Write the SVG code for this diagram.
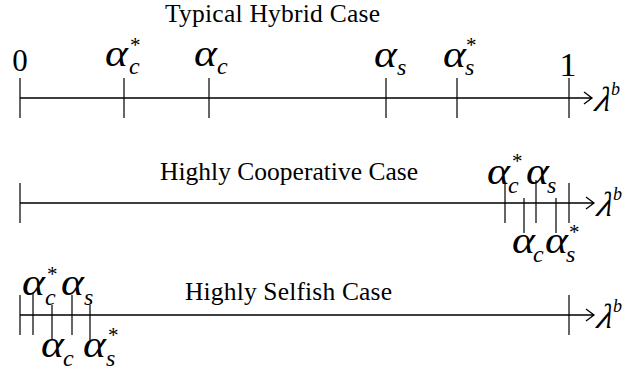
<svg xmlns="http://www.w3.org/2000/svg" width="626" height="370" viewBox="0 0 626 370">
<style>
.ax{stroke:#000;stroke-width:1.3;fill:none}
.tk{stroke:#000;stroke-width:1.2;fill:none}
.ttl{font-family:"Liberation Serif","Times New Roman",serif;font-size:25.5px;fill:#000}
.num{font-family:"Liberation Serif","Times New Roman",serif;font-size:31px;fill:#000;text-anchor:middle}
.al{font-family:"Liberation Serif","Times New Roman",serif;font-style:italic;font-size:37px;fill:#000}
.sb{font-family:"Liberation Serif","Times New Roman",serif;font-style:italic;font-size:24px;fill:#000}
.st{font-family:"Liberation Serif","Times New Roman",serif;font-size:21px;fill:#000}
.lam{font-family:"Liberation Serif","Times New Roman",serif;font-style:italic;font-size:35px;fill:#000}
.sup{font-family:"Liberation Serif","Times New Roman",serif;font-style:italic;font-size:18px;fill:#000}
</style>
<rect width="626" height="370" fill="#fff"/>
<g id="connectors">
  <path class="ax" d="M20 98H592M584 92L592 98L584 104"/>
  <path class="ax" d="M20 203H594M586 197L594 203L586 209"/>
  <path class="ax" d="M20 315H594M586 309L594 315L586 321"/>
  <path class="tk" d="M20 78V118M124 78V118M209 78V118M386 78V118M457 78V118M569 78V118"/>
  <path class="tk" d="M20 183V223M505 184V223M536 180V223M524 198V233M556 198V233M569 183V223"/>
  <path class="tk" d="M20 295V335M33 293V335M72 295V335M52 305V340M90 305V340M569 295V335"/>
</g>
<g id="hybrid">
  <text class="ttl" x="165" y="22" textLength="215">Typical Hybrid Case</text>
  <text class="num" x="20" y="71">0</text>
  <text class="num" x="568" y="76" style="font-size:34px">1</text>
  <text class="al" transform="translate(105 66) scale(1.18 1)">α</text><text class="sb" x="129" y="74">c</text><text class="st" x="130" y="52">*</text>
  <text class="al" transform="translate(194 66) scale(1.18 1)">α</text><text class="sb" x="217" y="74">c</text>
  <text class="al" transform="translate(374 67) scale(1.18 1)">α</text><text class="sb" x="397" y="75">s</text>
  <text class="al" transform="translate(443 67) scale(1.18 1)">α</text><text class="sb" x="465" y="75">s</text><text class="st" x="466" y="52">*</text>
  <text class="lam" transform="translate(594 111) skewX(-14)">λ</text><text class="sup" x="611" y="95">b</text>
</g>
<g id="cooperative">
  <text class="ttl" x="160" y="180" textLength="258">Highly Cooperative Case</text>
  <text class="al" transform="translate(487 184) scale(1.18 1)">α</text><text class="sb" x="508" y="193">c</text><text class="st" x="512" y="168">*</text>
  <text class="al" transform="translate(526 184) scale(1.18 1)">α</text><text class="sb" x="547" y="193">s</text>
  <text class="al" transform="translate(512 253) scale(1.18 1)">α</text><text class="sb" x="533" y="262">c</text>
  <text class="al" transform="translate(545 253) scale(1.18 1)">α</text><text class="sb" x="566" y="262">s</text><text class="st" x="569" y="239">*</text>
  <text class="lam" transform="translate(596 216) skewX(-14)">λ</text><text class="sup" x="613" y="200">b</text>
</g>
<g id="selfish">
  <text class="ttl" x="185" y="300" textLength="207">Highly Selfish Case</text>
  <text class="al" transform="translate(22 295) scale(1.18 1)">α</text><text class="sb" x="45" y="305">c</text><text class="st" x="47" y="281">*</text>
  <text class="al" transform="translate(61 295) scale(1.18 1)">α</text><text class="sb" x="84" y="305">s</text>
  <text class="al" transform="translate(41 357) scale(1.18 1)">α</text><text class="sb" x="63" y="366">c</text>
  <text class="al" transform="translate(83 357) scale(1.18 1)">α</text><text class="sb" x="106" y="366">s</text><text class="st" x="108" y="342">*</text>
  <text class="lam" transform="translate(596 328) skewX(-14)">λ</text><text class="sup" x="613" y="312">b</text>
</g>
</svg>
